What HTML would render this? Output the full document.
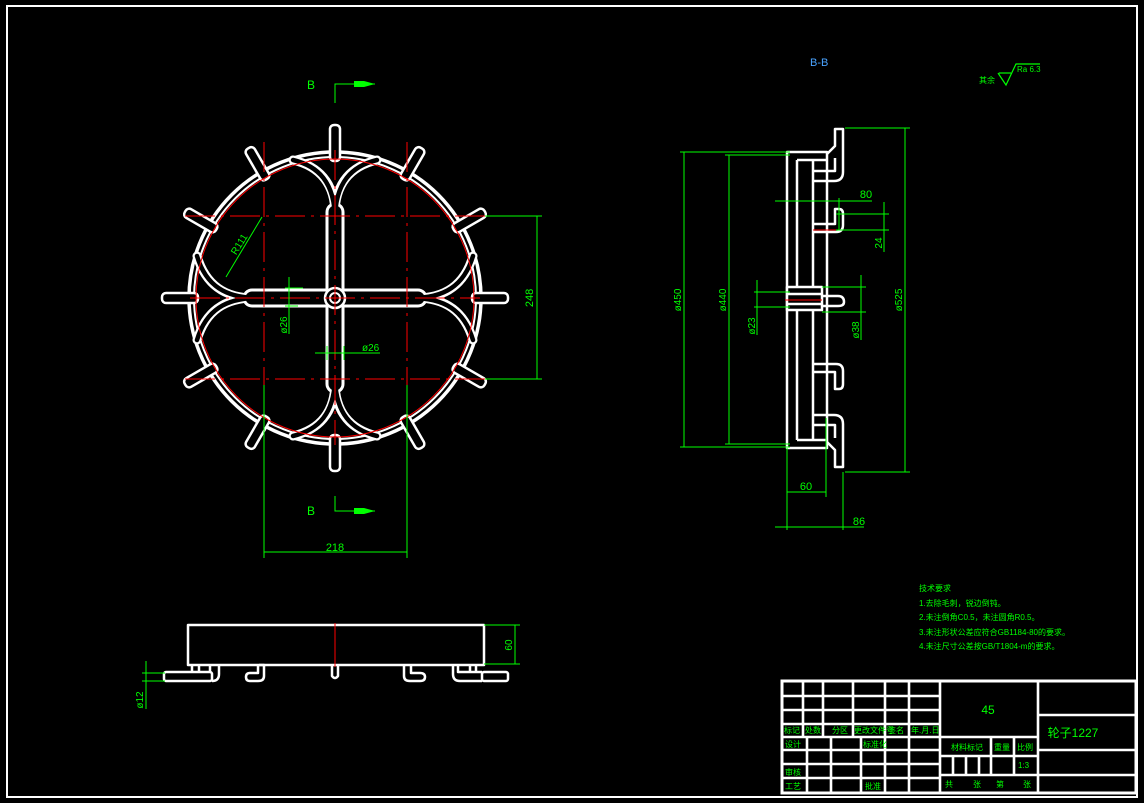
<!DOCTYPE html>
<html><head><meta charset="utf-8"><style>
html,body{margin:0;padding:0;background:#000;}
svg{display:block}
text{font-family:"Liberation Sans","Noto Sans CJK SC",sans-serif;fill:#00ff00;}
</style></head><body>
<svg width="1144" height="803" viewBox="0 0 1144 803" xmlns="http://www.w3.org/2000/svg">
<rect x="0" y="0" width="1144" height="803" fill="#000"/>
<rect x="7" y="6" width="1130" height="791" fill="none" stroke="#fff" stroke-width="2"/>

<!-- FRONT VIEW -->
<g fill="none">
 <circle cx="335" cy="298" r="146" stroke="#fff" stroke-width="3.5"/>
 <circle cx="335" cy="298" r="141" stroke="#fff" stroke-width="2"/>
 <g stroke="#fff" stroke-width="9" stroke-linecap="round">
  <path d="M335,214 C335,182 318,166 293,160"/>
  <path d="M335,214 C335,182 352,166 377,160"/>
  <path d="M335,382 C335,414 318,430 293,436"/>
  <path d="M335,382 C335,414 352,430 377,436"/>
  <path d="M254,298 C226,298 206,286 197,256"/>
  <path d="M254,298 C226,298 206,310 197,340"/>
  <path d="M416,298 C444,298 464,286 473,256"/>
  <path d="M416,298 C444,298 464,310 473,340"/>
  <line x1="335" y1="212" x2="335" y2="384" stroke-width="19"/>
  <line x1="252" y1="298" x2="418" y2="298" stroke-width="19"/>
 </g>
 <g stroke="#000" stroke-width="4.5" stroke-linecap="round">
  <path d="M335,220 C335,182 318,166 293,160"/>
  <path d="M335,220 C335,182 352,166 377,160"/>
  <path d="M335,376 C335,414 318,430 293,436"/>
  <path d="M335,376 C335,414 352,430 377,436"/>
  <path d="M258,298 C226,298 206,286 197,256"/>
  <path d="M258,298 C226,298 206,310 197,340"/>
  <path d="M412,298 C444,298 464,286 473,256"/>
  <path d="M412,298 C444,298 464,310 473,340"/>
  <line x1="335" y1="212" x2="335" y2="384" stroke-width="13"/>
  <line x1="252" y1="298" x2="418" y2="298" stroke-width="13"/>
 </g>
 <circle cx="335" cy="298" r="10" stroke="#fff" stroke-width="2.5" fill="#000"/>
 <circle cx="335" cy="298" r="5" stroke="#fff" stroke-width="2"/>
 <g stroke="#fff" stroke-width="2.5" fill="#000">
  <rect x="330" y="125" width="10" height="36" rx="4" transform="rotate(0 335 298)"/>
  <rect x="330" y="125" width="10" height="36" rx="4" transform="rotate(30 335 298)"/>
  <rect x="330" y="125" width="10" height="36" rx="4" transform="rotate(60 335 298)"/>
  <rect x="330" y="125" width="10" height="36" rx="4" transform="rotate(90 335 298)"/>
  <rect x="330" y="125" width="10" height="36" rx="4" transform="rotate(120 335 298)"/>
  <rect x="330" y="125" width="10" height="36" rx="4" transform="rotate(150 335 298)"/>
  <rect x="330" y="125" width="10" height="36" rx="4" transform="rotate(180 335 298)"/>
  <rect x="330" y="125" width="10" height="36" rx="4" transform="rotate(210 335 298)"/>
  <rect x="330" y="125" width="10" height="36" rx="4" transform="rotate(240 335 298)"/>
  <rect x="330" y="125" width="10" height="36" rx="4" transform="rotate(270 335 298)"/>
  <rect x="330" y="125" width="10" height="36" rx="4" transform="rotate(300 335 298)"/>
  <rect x="330" y="125" width="10" height="36" rx="4" transform="rotate(330 335 298)"/>
 </g>
 <circle cx="335" cy="298" r="139" stroke="#ff0000" stroke-width="1"/>
 <g stroke="#ff0000" stroke-width="1" stroke-dasharray="30,6,3,6">
  <line x1="264" y1="142" x2="264" y2="455"/>
  <line x1="335" y1="150" x2="335" y2="445"/>
  <line x1="407" y1="142" x2="407" y2="455"/>
  <line x1="185" y1="216" x2="490" y2="216"/>
  <line x1="190" y1="298" x2="480" y2="298"/>
  <line x1="185" y1="379" x2="490" y2="379"/>
 </g>
</g>
<g stroke="#00ff00" stroke-width="1" fill="none">
 <line x1="485" y1="216" x2="542" y2="216"/>
 <line x1="485" y1="379" x2="542" y2="379"/>
 <line x1="537" y1="216" x2="537" y2="379"/>
 <line x1="264" y1="385" x2="264" y2="558"/>
 <line x1="407" y1="385" x2="407" y2="558"/>
 <line x1="264" y1="552" x2="407" y2="552"/>
 <line x1="226" y1="277" x2="262" y2="217"/>
 <line x1="289" y1="277" x2="289" y2="334"/>
 <line x1="285" y1="288" x2="303" y2="288"/>
 <line x1="285" y1="306" x2="298" y2="306"/>
 <line x1="315" y1="353" x2="380" y2="353"/>
 <line x1="327" y1="346" x2="327" y2="360"/>
 <line x1="344" y1="346" x2="344" y2="360"/>
 <polyline points="335,103 335,84 375,84"/>
 <polyline points="335,496 335,511 375,511"/>
</g>
<polygon points="354,81 364,81 375,84 364,87 354,87" fill="#00ff00"/>
<polygon points="354,508 364,508 375,511 364,514 354,514" fill="#00ff00"/>
<text x="307" y="89" font-size="12">B</text>
<text x="307" y="515" font-size="12">B</text>
<text x="335" y="551" font-size="11" text-anchor="middle">218</text>
<text transform="translate(533,298) rotate(-90)" font-size="11" text-anchor="middle">248</text>
<text transform="translate(242,246) rotate(-58)" font-size="10" text-anchor="middle">R111</text>
<text transform="translate(287,325) rotate(-90)" font-size="10" text-anchor="middle">ø26</text>
<text x="362" y="351" font-size="10">ø26</text>

<!-- SIDE VIEW B-B -->
<text x="810" y="66" font-size="11" style="fill:#4aa3ff">B-B</text>
<text x="979" y="83" font-size="8">其余</text>
<polyline points="998,73 1006,85 1016,64 1040,64" fill="none" stroke="#00ff00" stroke-width="1.2"/>
<line x1="999" y1="73" x2="1011" y2="73" stroke="#00ff00" stroke-width="1.2"/>
<text x="1017" y="72" font-size="8">Ra 6.3</text>

<g stroke="#fff" stroke-width="2.5" fill="none" stroke-linejoin="round">
 <rect x="787" y="152" width="40" height="296" />
 <line x1="797" y1="160" x2="797" y2="440"/>
 <line x1="813" y1="160" x2="813" y2="440"/>
 <line x1="797" y1="160" x2="827" y2="160"/>
 <line x1="797" y1="440" x2="827" y2="440"/>
 <path d="M827,154 L835,146 L835,129 L843,129 L843,172 Q843,181 834,181 L813,181"/>
 <path d="M813,171 L835,171 L835,158"/>
 <path d="M827,442 L835,450 L835,467 L843,467 L843,424 Q843,415 834,415 L813,415"/>
 <path d="M813,425 L835,425 L835,438"/>
 <path d="M813,232 L836,232 Q843,232 843,225 L843,214 Q843,209 839,209 L835,209 L835,224 L813,224"/>
 <path d="M813,364 L836,364 Q843,364 843,371 L843,384 Q843,389 839,389 L835,389 L835,372 L813,372"/>
 <rect x="787" y="287" width="35" height="23" fill="#000"/>
 <line x1="787" y1="294" x2="822" y2="294"/>
 <line x1="787" y1="304" x2="822" y2="304"/>
 <path d="M822,296 L838,296 Q844,296 844,302 Q844,306 838,306 L822,306"/>
</g>
<line x1="813" y1="230" x2="838" y2="230" stroke="#ff0000" stroke-width="1"/>
<line x1="785" y1="300" x2="822" y2="300" stroke="#ff0000" stroke-width="1"/>
<g stroke="#00ff00" stroke-width="1" fill="none">
 <line x1="680" y1="152" x2="790" y2="152"/>
 <line x1="680" y1="447" x2="790" y2="447"/>
 <line x1="684" y1="152" x2="684" y2="447"/>
 <line x1="725" y1="155" x2="790" y2="155"/>
 <line x1="725" y1="444" x2="790" y2="444"/>
 <line x1="729" y1="155" x2="729" y2="444"/>
 <line x1="845" y1="128" x2="910" y2="128"/>
 <line x1="845" y1="472" x2="910" y2="472"/>
 <line x1="905" y1="128" x2="905" y2="472"/>
 <line x1="754" y1="292" x2="790" y2="292"/>
 <line x1="754" y1="307" x2="790" y2="307"/>
 <line x1="757" y1="280" x2="757" y2="335"/>
 <line x1="822" y1="287" x2="866" y2="287"/>
 <line x1="822" y1="312" x2="866" y2="312"/>
 <line x1="861" y1="275" x2="861" y2="340"/>
 <line x1="775" y1="201" x2="872" y2="201"/>
 <line x1="839" y1="198" x2="839" y2="230"/>
 <line x1="836" y1="214" x2="889" y2="214"/>
 <line x1="836" y1="230" x2="889" y2="230"/>
 <line x1="884" y1="202" x2="884" y2="252"/>
 <line x1="787" y1="448" x2="787" y2="530"/>
 <line x1="826" y1="418" x2="826" y2="497"/>
 <line x1="843" y1="472" x2="843" y2="530"/>
 <line x1="787" y1="492" x2="826" y2="492"/>
 <line x1="775" y1="527" x2="864" y2="527"/>
</g>
<text transform="translate(681,300) rotate(-90)" font-size="10" text-anchor="middle">ø450</text>
<text transform="translate(726,300) rotate(-90)" font-size="10" text-anchor="middle">ø440</text>
<text transform="translate(902,300) rotate(-90)" font-size="10" text-anchor="middle">ø525</text>
<text transform="translate(755,326) rotate(-90)" font-size="10" text-anchor="middle">ø23</text>
<text transform="translate(859,330) rotate(-90)" font-size="10" text-anchor="middle">ø38</text>
<text transform="translate(882,243) rotate(-90)" font-size="10" text-anchor="middle">24</text>
<text x="866" y="198" font-size="11" text-anchor="middle">80</text>
<text x="806" y="490" font-size="11" text-anchor="middle">60</text>
<text x="859" y="525" font-size="11" text-anchor="middle">86</text>

<!-- BOTTOM VIEW -->
<g stroke="#fff" stroke-width="2.5" fill="none" stroke-linejoin="round">
 <rect x="188" y="625" width="296" height="40"/>
 <rect x="164" y="672" width="48" height="9" rx="2"/>
 <rect x="482" y="672" width="26" height="9" rx="2"/>
 <path d="M192,665 L192,672 M199,665 L199,672 M210,665 L210,672"/>
 <path d="M219,665 L219,674 Q219,681 212,681"/>
 <path d="M259,665 L264,665 L264,676 Q264,681 258,681 L250,681 Q246,681 246,677 Q246,673 250,673 L258,673 L258,665"/>
 <path d="M332,665 L332,676 Q335,680 338,676 L338,665"/>
 <path d="M404,665 L404,676 Q404,681 410,681 L420,681 Q425,681 425,677 Q425,673 420,673 L411,673 L411,665"/>
 <path d="M453,665 L453,674 Q453,681 460,681 L482,681 M458,665 L458,672 L482,672 M470,665 L470,672 M476,665 L476,672"/>
</g>
<line x1="335" y1="623" x2="335" y2="667" stroke="#ff0000" stroke-width="1"/>
<g stroke="#00ff00" stroke-width="1" fill="none">
 <line x1="484" y1="625" x2="520" y2="625"/>
 <line x1="484" y1="664" x2="520" y2="664"/>
 <line x1="515" y1="625" x2="515" y2="664"/>
 <line x1="142" y1="673" x2="165" y2="673"/>
 <line x1="142" y1="681" x2="165" y2="681"/>
 <line x1="146" y1="661" x2="146" y2="709"/>
</g>
<text transform="translate(512,645) rotate(-90)" font-size="10" text-anchor="middle">60</text>
<text transform="translate(143,700) rotate(-90)" font-size="10" text-anchor="middle">ø12</text>

<g font-size="8">
<text x="919" y="591">技术要求</text>
<text x="919" y="606">1.去除毛刺，锐边倒钝。</text>
<text x="919" y="620">2.未注倒角C0.5，未注圆角R0.5。</text>
<text x="919" y="635">3.未注形状公差应符合GB1184-80的要求。</text>
<text x="919" y="649">4.未注尺寸公差按GB/T1804-m的要求。</text>
</g>

<!-- TITLE BLOCK -->
<g stroke="#fff" stroke-width="2.6" fill="none">
 <rect x="782" y="681" width="354" height="112" stroke-width="3"/>
 <line x1="940" y1="681" x2="940" y2="793"/>
 <line x1="1038" y1="681" x2="1038" y2="793"/>
 <line x1="782" y1="696" x2="940" y2="696"/>
 <line x1="782" y1="710" x2="940" y2="710"/>
 <line x1="782" y1="724" x2="940" y2="724"/>
 <line x1="782" y1="737" x2="940" y2="737"/>
 <line x1="803" y1="681" x2="803" y2="737"/>
 <line x1="823" y1="681" x2="823" y2="737"/>
 <line x1="853" y1="681" x2="853" y2="737"/>
 <line x1="885" y1="681" x2="885" y2="737"/>
 <line x1="909" y1="681" x2="909" y2="737"/>
 <line x1="782" y1="750" x2="940" y2="750"/>
 <line x1="782" y1="764" x2="940" y2="764"/>
 <line x1="782" y1="778" x2="940" y2="778"/>
 <line x1="807" y1="737" x2="807" y2="793"/>
 <line x1="831" y1="737" x2="831" y2="793"/>
 <line x1="861" y1="737" x2="861" y2="793"/>
 <line x1="885" y1="737" x2="885" y2="793"/>
 <line x1="909" y1="737" x2="909" y2="793"/>
 <line x1="940" y1="737" x2="1038" y2="737"/>
 <line x1="940" y1="756" x2="1038" y2="756"/>
 <line x1="940" y1="775" x2="1038" y2="775"/>
 <line x1="991" y1="737" x2="991" y2="775"/>
 <line x1="1014" y1="737" x2="1014" y2="775"/>
 <line x1="953" y1="756" x2="953" y2="775"/>
 <line x1="966" y1="756" x2="966" y2="775"/>
 <line x1="979" y1="756" x2="979" y2="775"/>
 <line x1="1038" y1="715" x2="1136" y2="715"/>
 <line x1="1038" y1="750" x2="1136" y2="750"/>
 <line x1="1038" y1="775" x2="1136" y2="775"/>
</g>
<g font-size="8">
<text x="784" y="733">标记</text>
<text x="805" y="733">处数</text>
<text x="832" y="733">分区</text>
<text x="854" y="733">更改文件号</text>
<text x="888" y="733">签名</text>
<text x="911" y="733">年.月.日</text>
<text x="785" y="747">设计</text>
<text x="863" y="747">标准化</text>
<text x="785" y="775">审核</text>
<text x="785" y="789">工艺</text>
<text x="865" y="789">批准</text>
<text x="951" y="750">材料标记</text>
<text x="994" y="750">重量</text>
<text x="1017" y="750">比例</text>
<text x="1018" y="768">1:3</text>
<text x="945" y="787">共</text>
<text x="973" y="787">张</text>
<text x="996" y="787">第</text>
<text x="1023" y="787">张</text>
</g>
<text x="988" y="714" font-size="12" text-anchor="middle">45</text>
<text x="1073" y="737" font-size="12" text-anchor="middle">轮子1227</text>
</svg>
</body></html>
